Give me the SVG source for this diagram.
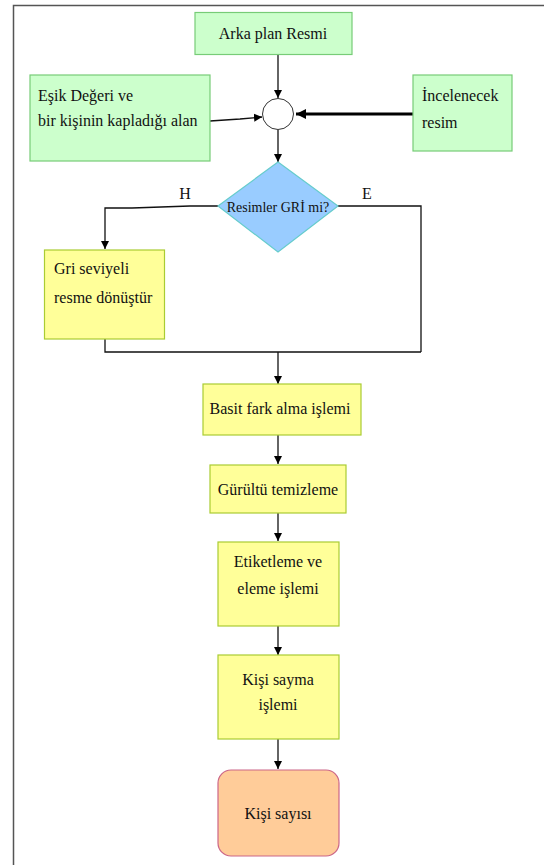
<svg xmlns="http://www.w3.org/2000/svg" width="544" height="865" viewBox="0 0 544 865">
<style>
text{font-family:"Liberation Serif","DejaVu Serif","Times New Roman",serif;font-size:16px;fill:#111}
.g{fill:#ccffcc;stroke:#77cc77;stroke-width:1.2}
.y{fill:#ffff99;stroke:#aacc33;stroke-width:1.2}
.c{text-anchor:middle}
.ln{fill:none;stroke:#111;stroke-width:1.3}
.th{fill:none;stroke:#000;stroke-width:3}
</style>
<defs>
<marker id="ah" viewBox="0 0 10 10" refX="10" refY="5" markerWidth="8" markerHeight="9" markerUnits="userSpaceOnUse" orient="auto"><path d="M0,0 L10,5 L0,10 z" fill="#000"/></marker>
<marker id="ah2" viewBox="0 0 10 10" refX="10" refY="5" markerWidth="10" markerHeight="10" markerUnits="userSpaceOnUse" orient="auto"><path d="M0,0 L10,5 L0,10 z" fill="#000"/></marker>
</defs>
<g id="frame">
<path d="M13.5,865 V5.5 H544" fill="none" stroke="#555" stroke-width="1.5"/>
</g>
<g id="connectors">
<path class="ln" d="M278,54 V98" marker-end="url(#ah)"/>
<path class="ln" d="M210,121 L240,119 L262,117" marker-end="url(#ah)"/>
<path class="th" d="M413,114 H296" marker-end="url(#ah2)"/>
<path class="ln" d="M278,130 V162" marker-end="url(#ah)"/>
<path class="ln" d="M218,206 L190,206 L132,208 H105 V249" marker-end="url(#ah)"/>
<path class="ln" d="M338,206 H421 V352"/>
<path class="ln" d="M105,339 V352 H421"/>
<path class="ln" d="M278,352 V384" marker-end="url(#ah)"/>
<path class="ln" d="M278,435 V464" marker-end="url(#ah)"/>
<path class="ln" d="M278,513 V541" marker-end="url(#ah)"/>
<path class="ln" d="M278,626 V655" marker-end="url(#ah)"/>
<path class="ln" d="M278,739 V769" marker-end="url(#ah)"/>
<text x="185" y="199" class="c">H</text>
<text x="367" y="199" class="c">E</text>
</g>
<g id="arka">
<rect class="g" x="195" y="12.5" width="157" height="42"/>
<text x="273" y="39" class="c">Arka plan Resmi</text>
</g>
<g id="esik">
<rect class="g" x="30" y="75" width="180" height="86"/>
<text x="38" y="101">Eşik Değeri ve</text>
<text x="38" y="126">bir kişinin kapladığı alan</text>
</g>
<g id="incelenecek">
<rect class="g" x="413" y="75" width="99" height="76"/>
<text x="422" y="101">İncelenecek</text>
<text x="422" y="128">resim</text>
</g>
<g id="birlesim">
<circle cx="278" cy="114" r="15.5" fill="#fff" stroke="#333" stroke-width="1"/>
</g>
<g id="karar">
<path d="M278,162 L338,206 L278,252 L218,206 Z" fill="#99ccff" stroke="#66cccc" stroke-width="1.2"/>
<text x="278" y="212" class="c" style="font-size:14px">Resimler GRİ mi?</text>
</g>
<g id="gri">
<rect class="y" x="44.5" y="250" width="120" height="89"/>
<text x="54" y="274">Gri seviyeli</text>
<text x="54" y="303">resme dönüştür</text>
</g>
<g id="basit">
<rect class="y" x="203" y="384" width="158" height="51"/>
<text x="280" y="414" class="c">Basit fark alma işlemi</text>
</g>
<g id="gurultu">
<rect class="y" x="210" y="465" width="136" height="48"/>
<text x="278" y="495" class="c">Gürültü temizleme</text>
</g>
<g id="etiket">
<rect class="y" x="218" y="542" width="121" height="84"/>
<text x="278" y="567" class="c">Etiketleme ve</text>
<text x="278" y="594" class="c">eleme işlemi</text>
</g>
<g id="sayma">
<rect class="y" x="218" y="655" width="121" height="84"/>
<text x="278" y="685" class="c">Kişi sayma</text>
<text x="278" y="710" class="c">işlemi</text>
</g>
<g id="sonuc">
<rect x="218" y="770" width="121" height="86" rx="13" fill="#ffcc99" stroke="#cc6688" stroke-width="1.2"/>
<text x="278" y="819" class="c">Kişi sayısı</text>
</g>
</svg>
